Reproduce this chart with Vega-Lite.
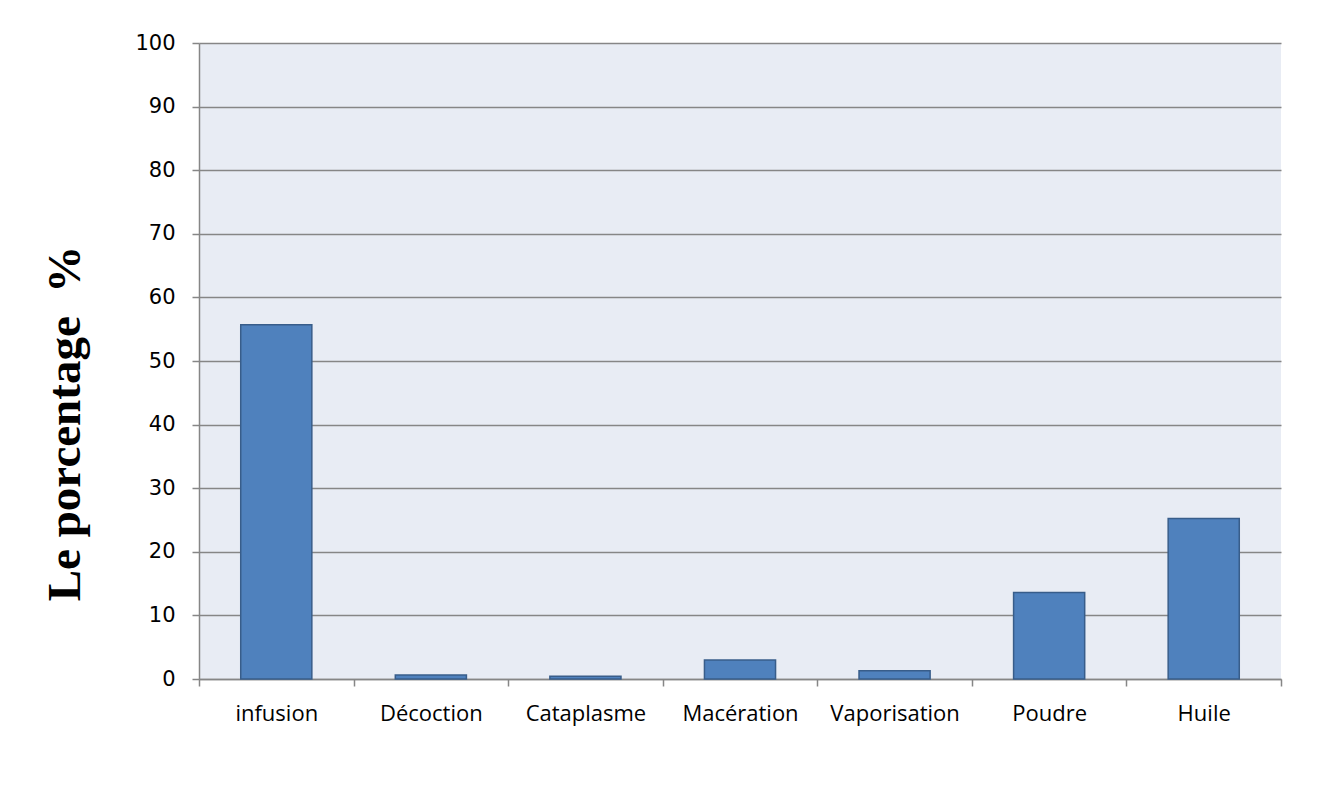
{
  "$schema": "https://vega.github.io/schema/vega-lite/v6.json",
  "autosize": {"type": "none"},
  "width": 1082,
  "height": 636,
  "padding": {"left": 199, "top": 43, "right": 57, "bottom": 123},
  "background": "white",
  "config": {
    "view": {"fill": "#E8ECF4", "stroke": null},
    "axis": {"domainColor": "#868686", "tickColor": "#868686", "gridColor": "#868686", "domainWidth": 1.5, "tickWidth": 1.5, "gridWidth": 1.5, "labelColor": "black"}
  },
  "data": {
    "values": [
      {"mode": "infusion", "pct": 55.7},
      {"mode": "Décoction", "pct": 0.63},
      {"mode": "Cataplasme", "pct": 0.42},
      {"mode": "Macération", "pct": 3.0},
      {"mode": "Vaporisation", "pct": 1.3},
      {"mode": "Poudre", "pct": 13.6},
      {"mode": "Huile", "pct": 25.25}
    ]
  },
  "mark": {"type": "bar", "fill": "#4F81BD", "stroke": "#385D8A", "strokeWidth": 1.5, "width": {"band": 0.46}},
  "encoding": {
    "x": {
      "field": "mode", "type": "nominal", "sort": null,
      "scale": {"paddingInner": 0, "paddingOuter": 0},
      "axis": {"title": null, "labelAngle": 0, "labelFont": "Open Sans", "labelFontSize": 22, "labelPadding": 17, "tickBand": "extent", "tickSize": 7, "grid": false}
    },
    "y": {
      "field": "pct", "type": "quantitative",
      "scale": {"domain": [0, 100], "nice": false},
      "axis": {
        "title": "Le porcentage\u2002%",
        "titleFont": "Liberation Serif", "titleFontSize": 47, "titleFontWeight": "bold", "titleColor": "black",
        "titleAngle": -90, "titleX": -134, "titleY": 380, "titleAlign": "center", "titleBaseline": "middle",
        "values": [0, 10, 20, 30, 40, 50, 60, 70, 80, 90, 100],
        "labelFont": "DejaVu Sans", "labelFontSize": 21, "labelPadding": 17, "tickSize": 7, "grid": true
      }
    }
  }
}
